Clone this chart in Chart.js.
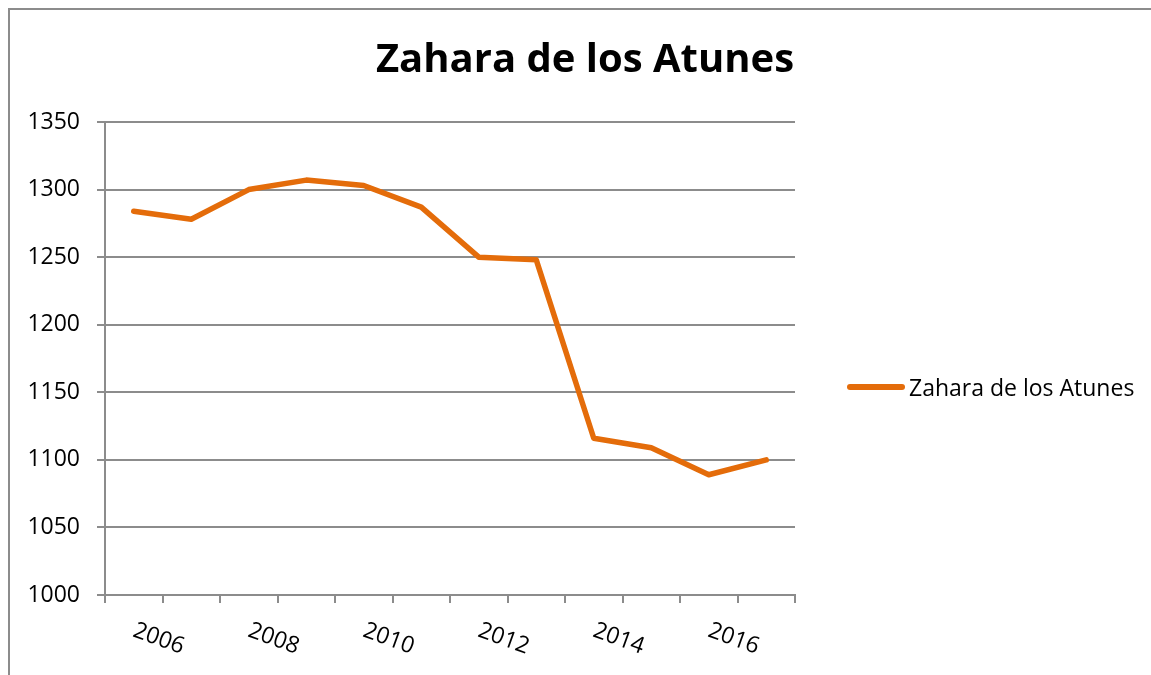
<!DOCTYPE html>
<html lang="es">
<head>
<meta charset="utf-8">
<title>Zahara de los Atunes</title>
<script src="https://cdn.jsdelivr.net/npm/chart.js@4.4.1/dist/chart.umd.min.js"></script>
<style>
    html, body { margin: 0; padding: 0; background: #fff; overflow: hidden; }
    #caja { position: relative; width: 1151px; height: 675px; overflow: hidden; font-family: 'Open Sans', sans-serif; }
    #marco { position: absolute; left: 8px; top: 8px; width: 1300px; height: 800px; border: 2px solid #8c8c8c; box-sizing: border-box; }
    #grafico { position: absolute; left: 0; top: 0; }
    #titulo { position: absolute; left: 0; width: 1170px; top: 37px; text-align: center; font-weight: bold; font-size: 40px; line-height: 40px; color: #000; }
    #leyenda { position: absolute; left: 847px; top: 371px; font-size: 23px; line-height: 32px; color: #000; }
    #leyenda .item { display: flex; align-items: center; }
    #leyenda .linea { display: inline-block; width: 58px; height: 6px; border-radius: 3px; margin-right: 4px; }
</style>
</head>
<body>
<div id="caja">
    <div id="marco"></div>
    <canvas id="grafico" width="1151" height="675"></canvas>
    <div id="titulo">Zahara de los Atunes</div>
    <div id="leyenda"></div>
</div>
<script>
const anios = ['2006', '2007', '2008', '2009', '2010', '2011', '2012', '2013', '2014', '2015', '2016', '2017'];
const poblacion = [1284, 1278, 1300, 1307, 1303, 1287, 1250, 1248, 1116, 1109, 1089, 1100];
const nombreSerie = 'Zahara de los Atunes';
const ejeY = { min: 1000, max: 1350, paso: 50 };

const colorSerie = '#E46C0A';
const colorEje = '#8c8c8c';

// etiquetas del eje x giradas hacia abajo (como en Excel), una sí y otra no
const etiquetasGiradas = {
    id: 'etiquetasGiradas',
    afterDraw(chart) {
        const ctx = chart.ctx;
        const escala = chart.scales.x;
        ctx.save();
        ctx.font = '23px "Open Sans"';
        ctx.fillStyle = '#000';
        ctx.textAlign = 'left';
        ctx.textBaseline = 'alphabetic';
        anios.forEach((anio, i) => {
            if (i % 2 !== 0) return;
            const x = escala.getPixelForValue(i) - 2;
            const y = escala.top + 41;
            ctx.save();
            ctx.translate(x, y);
            ctx.rotate(20 * Math.PI / 180);
            ctx.fillText(anio, 0, 0);
            ctx.restore();
        });
        ctx.restore();
    }
};

const canvas_grafico = document.getElementById('grafico');
const ctx = canvas_grafico.getContext('2d');

const grafico = new Chart(ctx, {
    type: 'line',
    data: {
        labels: anios,
        datasets: [
            {
                label: nombreSerie,
                data: poblacion,
                borderColor: colorSerie,
                backgroundColor: colorSerie,
                borderWidth: 5.5,
                borderCapStyle: 'round',
                borderJoinStyle: 'round',
                pointRadius: 0,
                tension: 0,
            },
        ],
    },
    options: {
        responsive: false,
        animation: false,
        layout: {
            padding: { left: 20, right: 356, top: 122, bottom: 72 },
        },
        plugins: {
            legend: { display: false },
            title: { display: false },
            tooltip: { enabled: false },
        },
        scales: {
            x: {
                type: 'category',
                offset: true,
                grid: {
                    offset: true,
                    drawOnChartArea: false,
                    drawTicks: true,
                    tickLength: 8,
                    color: colorEje,
                    lineWidth: 2,
                },
                border: { color: colorEje, width: 2 },
                ticks: { display: false, autoSkip: false },
            },
            y: {
                min: ejeY.min,
                max: ejeY.max,
                afterFit: (escala) => { escala.width = 85; },
                grid: {
                    color: colorEje,
                    lineWidth: 2,
                    drawTicks: true,
                    tickLength: 8,
                },
                border: { color: colorEje, width: 2 },
                ticks: {
                    stepSize: ejeY.paso,
                    padding: 17,
                    color: '#000',
                    font: { family: 'Open Sans', size: 23 },
                    callback: (valor) => String(valor),
                },
            },
        },
    },
    plugins: [etiquetasGiradas],
});

// leyenda en HTML a partir de los datasets
const leyenda = document.getElementById('leyenda');
grafico.data.datasets.forEach(ds => {
    const item = document.createElement('div');
    item.className = 'item';
    const linea = document.createElement('span');
    linea.className = 'linea';
    linea.style.background = ds.borderColor;
    const texto = document.createElement('span');
    texto.textContent = ds.label;
    item.appendChild(linea);
    item.appendChild(texto);
    leyenda.appendChild(item);
});
</script>
</body>
</html>
